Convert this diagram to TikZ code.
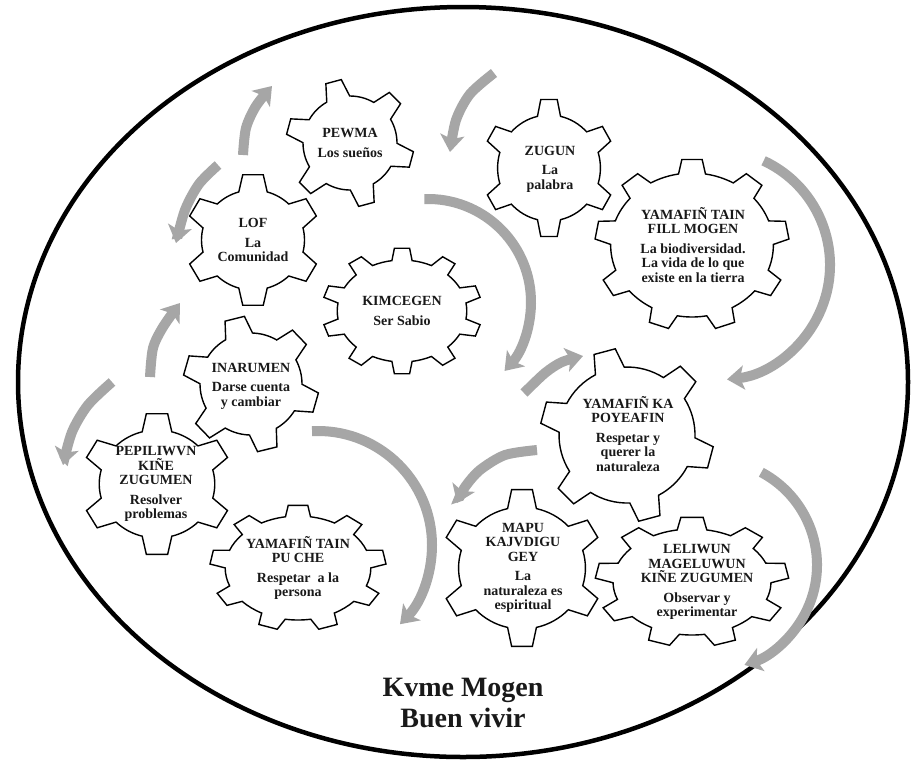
\documentclass[tikz,border=0pt]{standalone}
\usepackage{fontspec}
\setmainfont{Liberation Serif}
\usetikzlibrary{arrows.meta}
\definecolor{arrowgray}{RGB}{166,166,166}
\definecolor{textdark}{RGB}{25,25,25}
% #1 cx, #2 cy, #3 xscale, #4 teeth, #5 offset, #6 Rout, #7 Rin, #8 tip half width, #9 root half width
\newcommand{\drawgear}[9]{%
  \pgfmathsetmacro\gstep{360/#4}%
  \pgfmathsetmacro\gwt{deg(#8/#6)}%
  \pgfmathsetmacro\gwr{deg(#9/#7)}%
  \pgfmathtruncatemacro\glast{#4-1}%
  \begin{scope}[shift={(#1,#2)}, xscale=#3]
    \draw[gearline] ({#5-\gwr}:#7)
      \foreach \k in {0,...,\glast} {
        -- ({#5+\k*\gstep-\gwt}:#6)
        -- ({#5+\k*\gstep+\gwt}:#6)
        -- ({#5+\k*\gstep+\gwr}:#7)
        arc[start angle={#5+\k*\gstep+\gwr}, end angle={#5+(\k+1)*\gstep-\gwr}, radius=#7]
      } -- cycle;
  \end{scope}%
}
% arc arrow: #1 cx, #2 cy, #3 radius, #4 start angle, #5 end angle
\newcommand{\arcarrow}[5]{%
  \draw[garrow] ($(#1,#2)+(#4:#3)$) arc[start angle=#4, end angle=#5, radius=#3];%
}
\usetikzlibrary{calc}
\begin{document}
\begin{tikzpicture}[x=1pt,y=-1pt,
  gearline/.style={draw=black, line width=1.4pt, fill=white, line join=miter},
  garrow/.style={draw=arrowgray, line width=10pt, -{Stealth[width=24pt,length=17pt,inset=4pt]}},
  gtext/.style={font=\bfseries\fontsize{14}{14.5}\selectfont, align=center, text=textdark, inner sep=0pt},
  ttext/.style={font=\bfseries\fontsize{28}{31}\selectfont, align=center, text=textdark, inner sep=0pt}]
\useasboundingbox (0,0) rectangle (912,764);
\fill[white] (0,0) rectangle (912,764);
% outer ellipse
\draw[line width=4.5pt] (463,382) ellipse [x radius=445, y radius=375];
% arrows
\draw[garrow] plot[smooth] coordinates {(243,155) (246,128) (256,106) (272,86)};
\draw[garrow] plot[smooth] coordinates {(218,165) (199,184) (185,210) (176,243)};
\draw[garrow] plot[smooth] coordinates {(494,73) (470,94) (456,120) (450,152)};
\arcarrow{428}{302}{103}{-92}{42}
\arcarrow{715}{265}{115}{-65}{84}
\draw[garrow] plot[smooth] coordinates {(524,393) (545,373) (562,362) (583,356)};
\draw[garrow] plot[smooth] coordinates {(537,450) (505,455) (480,470) (465,487) (457,503)};
\arcarrow{712}{565}{105}{-62}{72}
\arcarrow{318}{545}{114}{-93}{44}
\draw[garrow] plot[smooth] coordinates {(150,377) (153,348) (163,327) (180,303)};
\draw[garrow] plot[smooth] coordinates {(112,382) (88,405) (72,432) (63,465)};
% gears
\drawgear{350}{143}{1}{6}{15}{64}{47}{8}{12}
\drawgear{253}{240}{1.03}{6}{-90}{66}{50}{10}{14}
\drawgear{402}{311}{1.27}{10}{-90}{63}{51}{6}{8}
\drawgear{251}{384}{1}{6}{16}{68}{51}{10}{14}
\drawgear{549}{168}{0.97}{6}{-90}{69}{53}{8.5}{12}
\drawgear{692}{245}{1.13}{9}{-90}{86}{72}{9}{12}
\drawgear{627}{435}{1}{6}{15}{87}{68}{11}{15}
\drawgear{157}{484}{1.07}{6}{-90}{71}{54}{10}{14}
\drawgear{298}{568}{1.4}{9}{-90}{63}{52}{7}{9}
\drawgear{522}{568}{1.04}{6}{-90}{79}{61}{10}{14}
\drawgear{692}{582}{1.49}{9}{-90}{65}{53}{7.5}{10}
% texts
\node[gtext] (pewma) at (350,143) {PEWMA\\[5pt]Los sueños};
\node[gtext] (lof) at (253,240) {LOF\\[5pt]La\\Comunidad};
\node[gtext] (kim) at (402,311) {KIMCEGEN\\[5pt]Ser Sabio};
\node[gtext] (inar) at (251,386) {INARUMEN\\[5pt]Darse cuenta\\y cambiar};
\node[gtext] (zugun) at (550,169) {ZUGUN\\[5pt]La\\palabra};
\node[gtext] (fill) at (693,245) {YAMAFIÑ TAIN\\FILL MOGEN\\[5pt]La biodiversidad.\\La vida de lo que\\existe en la tierra};
\node[gtext] (poye) at (628,434) {YAMAFIÑ KA\\POYEAFIN\\[5pt]Respetar y\\querer la\\naturaleza};
\node[gtext] (pepi) at (156,484) {PEPILIWVN\\KIÑE\\ZUGUMEN\\[5pt]Resolver\\problemas};
\node[gtext] (puche) at (298,568) {YAMAFIÑ TAIN\\PU CHE\\[5pt]Respetar~ a la\\persona};
\node[gtext] (mapu) at (523,568) {MAPU\\KAJVDIGU\\GEY\\[5pt]La\\naturaleza es\\espiritual};
\node[gtext] (leli) at (697,582) {LELIWUN\\MAGELUWUN\\KIÑE ZUGUMEN\\[5pt]Observar y\\experimentar};
\node[ttext] (title) at (463,703) {Kvme Mogen\\Buen vivir};
\end{tikzpicture}
\end{document}
